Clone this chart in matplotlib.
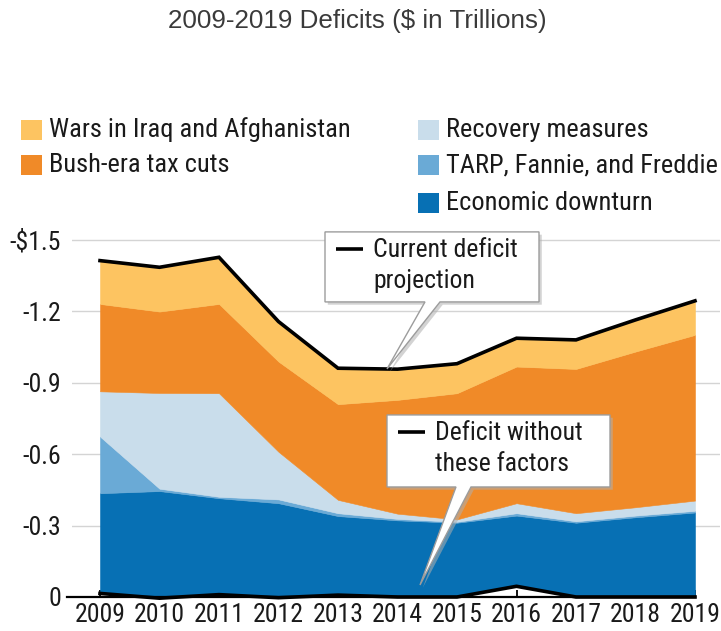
import numpy as np
import matplotlib
matplotlib.use("Agg")
import matplotlib.pyplot as plt
from matplotlib import font_manager as fm
from matplotlib.patches import Rectangle, Polygon
from matplotlib import transforms

# ---------------- data ($ trillions, shown as negative deficits) ----------------
years = [2009, 2010, 2011, 2012, 2013, 2014, 2015, 2016, 2017, 2018, 2019]
deficit_without = [0.015, -0.005, 0.010, -0.003, 0.008, 0.000, 0.000, 0.045, 0.000, 0.000, 0.000]
economic_downturn = [0.421, 0.450, 0.405, 0.397, 0.332, 0.322, 0.312, 0.297, 0.312, 0.335, 0.355]
tarp_fannie_freddie = [0.238, 0.010, 0.006, 0.016, 0.012, 0.006, 0.004, 0.010, 0.006, 0.007, 0.007]
recovery_measures = [0.190, 0.402, 0.435, 0.200, 0.056, 0.022, 0.010, 0.042, 0.034, 0.035, 0.043]
bush_tax_cuts = [0.367, 0.342, 0.375, 0.379, 0.402, 0.478, 0.530, 0.574, 0.606, 0.654, 0.696]
wars = [0.182, 0.186, 0.196, 0.168, 0.151, 0.129, 0.124, 0.119, 0.122, 0.133, 0.143]

ytick_values = [0, 0.3, 0.6, 0.9, 1.2, 1.5]
ytick_labels = ["0", "-0.3", "-0.6", "-0.9", "-1.2", "-$1.5"]

title = "2009-2019 Deficits ($ in Trillions)"
layer_names = ["Economic downturn", "TARP, Fannie, and Freddie", "Recovery measures",
               "Bush-era tax cuts", "Wars in Iraq and Afghanistan"]
layer_colors = ["#0770B4", "#6AAAD6", "#C9DDEB", "#F08A28", "#FDC461"]

# ---------------- fonts ----------------
names = {f.name for f in fm.fontManager.ttflist}
COND = None
for cand in ["Liberation Sans Narrow", "Roboto Condensed", "Open Sans Condensed",
             "DejaVu Sans Condensed", "Noto Sans Condensed"]:
    if cand in names:
        COND = cand
        break
if COND is None:
    COND = "DejaVu Sans"
cond_kw = dict(family=[COND, "DejaVu Sans"])
if COND == "DejaVu Sans":
    cond_kw["stretch"] = "condensed"

TITLE_FONT = "Liberation Sans" if "Liberation Sans" in names else "DejaVu Sans"

W, H = 721, 631
fig = plt.figure(figsize=(W / 100, H / 100), dpi=100)
fig.patch.set_facecolor("white")

# axes geometry (pixels)
ax = fig.add_axes([72 / W, 34 / H, 648 / W, (597 - 228) / H])
ax.set_xlim(2009 - 28 / 59.5, 2019 + 25 / 59.5)
ax.set_ylim(0, 1.55)

x = np.array(years, dtype=float)
base = np.array(deficit_without)
layers = [economic_downturn, tarp_fannie_freddie, recovery_measures, bush_tax_cuts, wars]
lower = base.copy()
for vals, col in zip(layers, layer_colors):
    upper = lower + np.array(vals)
    ax.fill_between(x, lower, upper, facecolor=col, edgecolor=col, linewidth=0.4, zorder=2)
    lower = upper
total = lower

ax.plot(x, total, color="black", lw=2.6, zorder=4, solid_joinstyle="miter")
ax.plot(x, base, color="black", lw=2.6, zorder=4, clip_on=False)

# grid
for v in ytick_values[1:]:
    ax.axhline(v, color="#d4d4d4", lw=1.0, zorder=1)

for s in ["top", "right", "left"]:
    ax.spines[s].set_visible(False)
ax.spines["bottom"].set_color("black")
ax.spines["bottom"].set_linewidth(1.6)
ax.spines["bottom"].set_bounds(ax.get_xlim()[0] - 0.08, 2019)
ax.spines["bottom"].set_zorder(3)

ax.set_yticks(ytick_values)
ax.set_yticklabels(ytick_labels)
ax.set_xticks(years)
ax.set_xticklabels([str(y) for y in years])
ax.tick_params(axis="y", length=0, pad=8, labelsize=18.5, labelcolor="#1a1a1a")
ax.tick_params(axis="x", direction="in", length=5, width=1.3, color="black",
               pad=4, labelsize=18.5, labelcolor="#1a1a1a")
for lab in ax.get_xticklabels() + ax.get_yticklabels():
    lab.set_family(cond_kw["family"])
    if "stretch" in cond_kw:
        lab.set_stretch(cond_kw["stretch"])


# ---------------- callouts ----------------
def px2data(px, py):
    return 2009 + (px - 100) / 59.5, (597 - py) / 238.0


def callout(box, base_x, tip, lines):
    x0, y0 = px2data(box[0], box[1])
    x1, y1 = px2data(box[2], box[3])
    bx0, _ = px2data(base_x[0], box[3])
    bx1, _ = px2data(base_x[1], box[3])
    tx, ty = px2data(*tip)
    verts = [(x0, y0), (x1, y0), (x1, y1), (bx1, y1), (tx, ty), (bx0, y1), (x0, y1)]
    sh = transforms.offset_copy(ax.transData, fig=fig, x=2.0, y=-2.0, units="points")
    ax.add_patch(Polygon(verts, closed=True, facecolor="#b0b0b0", edgecolor="none",
                         alpha=0.55, transform=sh, zorder=5, clip_on=False))
    ax.add_patch(Polygon(verts, closed=True, facecolor="white", edgecolor="#9c9c9c",
                         lw=1.0, zorder=6, clip_on=False, joinstyle="miter"))
    # legend-like marker line
    mx0, my = px2data(box[0] + 11, box[1] + 17)
    mx1, _ = px2data(box[0] + 38, box[1] + 17)
    ax.plot([mx0, mx1], [my, my], color="black", lw=2.6, zorder=7, clip_on=False,
            solid_capstyle="butt")
    tx0, ty0 = px2data(box[0] + 48, box[1] + 18)
    _, ty1 = px2data(box[0] + 48, box[1] + 49)
    ax.text(tx0, ty0, lines[0], fontsize=18.5, color="#1a1a1a", va="center", ha="left",
            zorder=8, **cond_kw)
    ax.text(tx0, ty1, lines[1], fontsize=18.5, color="#1a1a1a", va="center", ha="left",
            zorder=8, **cond_kw)


callout((325, 232, 539, 302), (425, 440), (387, 369), ["Current deficit", "projection"])
callout((387, 415, 610, 487), (456, 471), (420, 585), ["Deficit without", "these factors"])

# ---------------- legend (figure coordinates) ----------------
legend_items = [
    ("Wars in Iraq and Afghanistan", layer_colors[4], 21, 130),
    ("Bush-era tax cuts", layer_colors[3], 21, 165),
    ("Recovery measures", layer_colors[2], 418, 130),
    ("TARP, Fannie, and Freddie", layer_colors[1], 418, 165),
    ("Economic downturn", layer_colors[0], 418, 203),
]
for label, col, lx, ly in legend_items:
    fig.add_artist(Rectangle((lx / W, 1 - (ly + 10) / H), 21 / W, 20 / H,
                             transform=fig.transFigure, facecolor=col, edgecolor="none"))
    fig.text((lx + 28) / W, 1 - ly / H, label, fontsize=19, color="#1a1a1a",
             va="center", ha="left", **cond_kw)

fig.text(357 / W, 1 - 21 / H, title, fontsize=18.7, color="#3a3a3a",
         ha="center", va="center", family=TITLE_FONT)

fig.savefig("out.png", dpi=100, facecolor="white")
